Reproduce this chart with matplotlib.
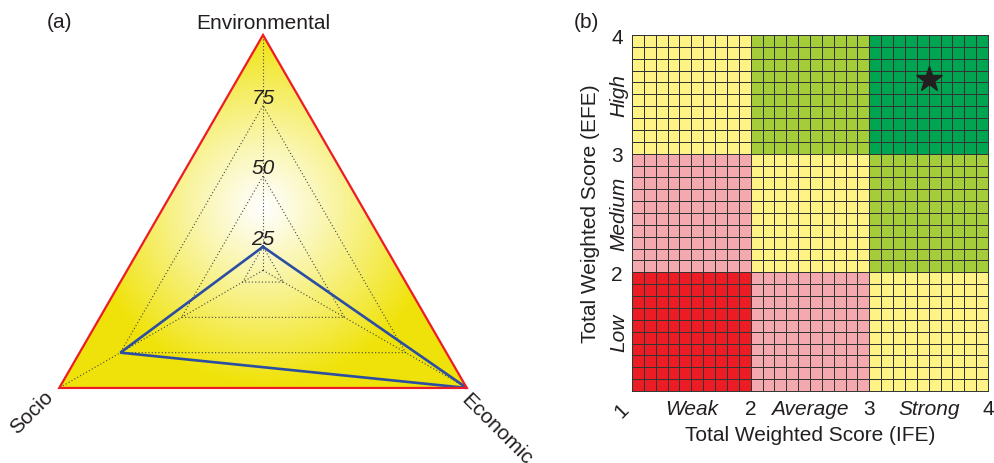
import numpy as np
import matplotlib.pyplot as plt
import matplotlib.transforms as mtransforms
from matplotlib.patches import Polygon
from matplotlib.colors import ListedColormap

plt.rcParams['font.family'] = ['Liberation Sans', 'DejaVu Sans']

# (a) 삼각형 레이더 데이터
dim_names = ['Environmental', 'Socio', 'Economic']
dim_angles = [90, 210, 330]
dim_scores = [25, 75, 100]
grid_levels = [25, 50, 75]
r_min, r_max = 100 / 6, 100   # 반경축 시작값 / 최대값

# (b) IFE-EFE 매트릭스 데이터
ife_ticks = [1, 2, 3, 4]
efe_ticks = [2, 3, 4]
ife_names = ['Weak', 'Average', 'Strong']
efe_names = ['Low', 'Medium', 'High']
zone_colors = ['#fff385', '#a5cd39', '#00a551', '#f4a9ae', '#ec1c24']
# 아래 행부터: 0 노랑, 1 연두, 2 초록, 3 분홍, 4 빨강
zone_map = [[4, 3, 0],
            [3, 0, 1],
            [0, 1, 2]]
cells_per_zone = 10
ife_score = 3.5
efe_score = 3.63

text_col = '#231f20'
fs = 15

fig = plt.figure(figsize=(9.95, 4.64), dpi=100)


def rad(v):
    return (v - r_min) / (r_max - r_min)


def to_xy(values):
    return [(rad(v) * np.cos(np.radians(a)), rad(v) * np.sin(np.radians(a)))
            for v, a in zip(values, dim_angles)]


# ---------- (a) ----------
R_px = 235.3
ax_a = fig.add_axes([0, 0, 540 / 995, 1])
ax_a.set_xlim(-263 / R_px, 277 / R_px)
ax_a.set_ylim(-192.7 / R_px, 271.3 / R_px)
ax_a.axis('off')

outer = to_xy([r_max] * 3)
tri = Polygon(outer, closed=True, facecolor='none', edgecolor='#ed1c24',
              lw=1.6, zorder=5)
ax_a.add_patch(tri)

# 방사형 그라데이션 채우기
gx = np.linspace(-0.9, 0.9, 400)
gy = np.linspace(-0.52, 1.02, 400)
GX, GY = np.meshgrid(gx, gy)
d = np.sqrt(GX ** 2 + (GY - 0.27) ** 2)
t = np.clip(d / 0.75, 0, 1) ** 1.1
white = np.array([1.0, 1.0, 1.0])
yellow = np.array([0.94, 0.89, 0.04])
img = white[None, None, :] * (1 - t[..., None]) + yellow[None, None, :] * t[..., None]
im = ax_a.imshow(img, extent=[-0.9, 0.9, -0.52, 1.02], origin='lower',
                 interpolation='bilinear', zorder=1, aspect='auto')
im.set_clip_path(tri)

# 점선 격자
for lvl in grid_levels:
    pts = to_xy([lvl] * 3)
    pts.append(pts[0])
    xs, ys = zip(*pts)
    ax_a.plot(xs, ys, color='#444444', lw=0.8, ls=(0, (1, 2)), zorder=2)
for (x, y) in outer:
    ax_a.plot([0, x], [0, y], color='#444444', lw=0.8, ls=(0, (1, 2)), zorder=2)

for lvl in grid_levels:
    ax_a.text(0, rad(lvl) + 0.035, str(lvl), ha='center', va='center',
              style='italic', fontsize=fs, color=text_col, zorder=6)

pts = to_xy(dim_scores)
pts.append(pts[0])
xs, ys = zip(*pts)
ax_a.plot(xs, ys, color='#2b4ea2', lw=1.9, zorder=4, solid_joinstyle='miter')

label_pos = [(0, 1.055, 0), (-0.982, -0.602, 45), (0.994, -0.674, -45)]
for name, (x, y, rot) in zip(dim_names, label_pos):
    ax_a.text(x, y, name, ha='center', va='center', rotation=rot,
              fontsize=fs, color=text_col, clip_on=True)

fig.text(60 / 995, 1 - 23 / 464, '(a)', ha='center', va='center',
         fontsize=fs, color=text_col)
fig.text(586 / 995, 1 - 23 / 464, '(b)', ha='center', va='center',
         fontsize=fs, color=text_col)

# ---------- (b) ----------
ax_b = fig.add_axes([632 / 995, 72 / 464, 356 / 995, 356 / 464])
z = np.kron(np.array(zone_map), np.ones((cells_per_zone, cells_per_zone)))
edges = np.linspace(ife_ticks[0], ife_ticks[-1], 3 * cells_per_zone + 1)
ax_b.pcolormesh(edges, edges, z, cmap=ListedColormap(zone_colors),
                vmin=-0.5, vmax=4.5, edgecolor='#333333', linewidth=0.7)
ax_b.plot(ife_score, efe_score, marker='*', ms=19, color=text_col, zorder=5)
ax_b.set_xlim(1, 4)
ax_b.set_ylim(1, 4)
for s in ax_b.spines.values():
    s.set_color('#333333')
    s.set_linewidth(0.7)

ax_b.set_xticks(ife_ticks)
ax_b.set_xticklabels([str(v) for v in ife_ticks])
ax_b.set_yticks(efe_ticks)
ax_b.set_yticklabels([str(v) for v in efe_ticks])
ax_b.tick_params(axis='x', length=0, pad=6, labelsize=fs, labelcolor=text_col)
ax_b.tick_params(axis='y', length=0, pad=6.5, labelsize=fs, labelcolor=text_col)
first = ax_b.get_xticklabels()[0]
first.set_rotation(45)
first.set_ha('right')

tx = mtransforms.blended_transform_factory(ax_b.transData, ax_b.transAxes)
for i, name in enumerate(ife_names):
    ax_b.text(i + 1.5, -0.048, name, transform=tx, ha='center', va='center',
              style='italic', fontsize=fs, color=text_col)
ty = mtransforms.blended_transform_factory(ax_b.transAxes, ax_b.transData)
for i, name in enumerate(efe_names):
    ax_b.text(-0.037, i + 1.5, name, transform=ty, ha='center', va='center',
              rotation=90, style='italic', fontsize=fs, color=text_col)

ax_b.set_xlabel('Total Weighted Score (IFE)', fontsize=fs, color=text_col)
ax_b.set_ylabel('Total Weighted Score (EFE)', fontsize=fs, color=text_col)
ax_b.xaxis.set_label_coords(0.5, -0.095)
ax_b.yaxis.set_label_coords(-0.09, 0.5)

fig.savefig('out.png', dpi=100)
